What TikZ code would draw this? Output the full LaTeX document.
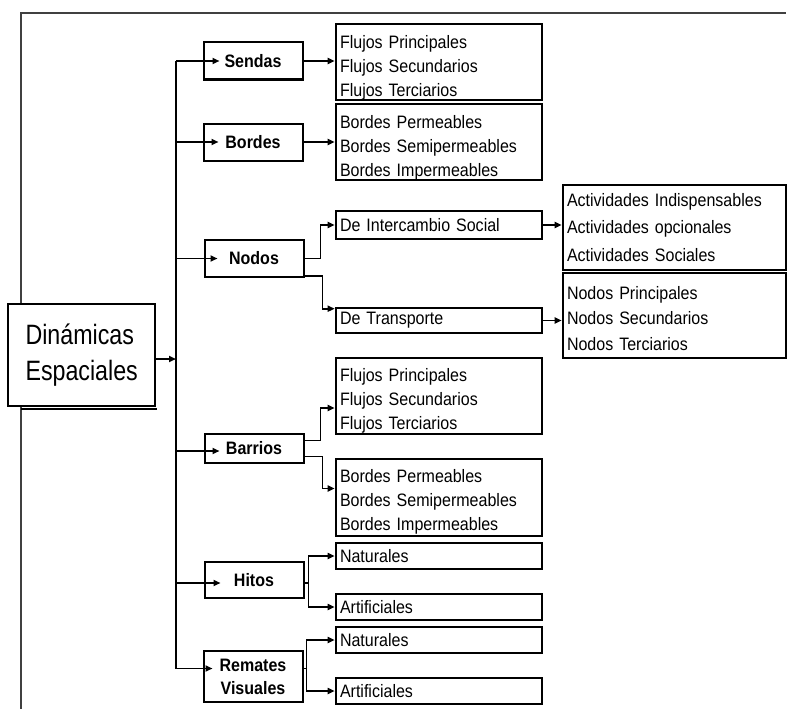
\documentclass[tikz,border=0pt]{standalone}
\usepackage{fontspec}
\setmainfont{Liberation Sans}
\newfontfamily\leaffont{Liberation Sans}[FakeStretch=0.89]
\newfontfamily\rootfont{Liberation Sans}[FakeStretch=0.83]
\usetikzlibrary{arrows.meta,calc}
\newcommand\firstrule[1]{\rule{0pt}{#1pt}}
\begin{document}
\begin{tikzpicture}[x=1pt,y=-1pt,
  arr/.style={line width=1.7pt,-{Triangle[length=7pt,width=6pt]}},
  ln/.style={line width=1.7pt},
  leafbox/.style={draw,fill=white,line width=2.6pt,inner xsep=4pt,inner ysep=0pt,
    text width=198pt,minimum width=206pt,align=left,
    font=\leaffont\fontsize{18}{24}\selectfont},
  thirdbox/.style={leafbox,text width=215pt,minimum width=223pt},
  brbox/.style={draw,fill=white,line width=2pt,minimum width=99pt,inner sep=0pt,
    align=center,font=\leaffont\bfseries\fontsize{18}{23}\selectfont},
  rootbox/.style={draw,fill=white,line width=1.3pt,minimum width=147pt,minimum height=102pt,
    inner xsep=0pt,text width=130pt,align=left,
    font=\rootfont\fontsize{28}{36}\selectfont},
  frame/.style={line width=1.4pt,black!75}
]
\useasboundingbox (0,0) rectangle (787,709);
% outer frame
\draw[frame] (21,709) -- (21,13) -- (786,13);

% root
\node[rootbox] (root) at (81.5,355) {\hspace*{9pt}Dinámicas\\\hspace*{9pt}Espaciales};
\draw[line width=2pt] ($(root.south west)+(14,2)$) -- ($(root.south east)+(1,2)$);

% branches
\node[brbox,minimum height=37pt] (sendas) at (253,61) {Sendas};
\node[brbox,minimum height=37pt] (bordes) at (253,142) {Bordes};
\node[brbox,minimum height=37pt] (nodos) at (254,258.5) {Nodos};
\node[brbox,minimum height=29pt] (barrios) at (254,448.5) {Barrios};
\node[brbox,minimum height=36pt] (hitos) at (254,580) {Hitos};
\node[brbox,minimum height=51pt] (remates) at (253,676.5) {Remates\\Visuales};

% second level
\node[leafbox,minimum height=76pt] (sl) at (439,62) {\firstrule{24}Flujos Principales\\Flujos Secundarios\\Flujos Terciarios};
\node[leafbox,minimum height=76pt] (bl) at (439,142) {\firstrule{24}Bordes Permeables\\Bordes Semipermeables\\Bordes Impermeables};
\node[leafbox,minimum height=28pt] (dis) at (439,225) {De Intercambio Social};
\node[leafbox,minimum height=25pt] (dtr) at (439,320.5) {De Transporte};
\node[leafbox,minimum height=76pt] (bfl) at (439,396) {\firstrule{22}Flujos Principales\\Flujos Secundarios\\Flujos Terciarios};
\node[leafbox,minimum height=77pt] (bbo) at (439,497.5) {\firstrule{22}Bordes Permeables\\Bordes Semipermeables\\Bordes Impermeables};
\node[leafbox,minimum height=26pt] (hn) at (439,556) {Naturales};
\node[leafbox,minimum height=26pt] (ha) at (439,607) {Artificiales};
\node[leafbox,minimum height=26pt] (rn) at (439,640) {Naturales};
\node[leafbox,minimum height=26pt] (ra) at (439,691) {Artificiales};

% third level
\node[thirdbox,minimum height=85pt,font=\leaffont\fontsize{18}{27.5}\selectfont] (act) at (674.5,227.5) {Actividades Indispensables\\Actividades opcionales\\Actividades Sociales};
\node[thirdbox,minimum height=85pt,font=\leaffont\fontsize{18}{25.5}\selectfont] (nod) at (674.5,315.5) {\firstrule{19}Nodos Principales\\Nodos Secundarios\\Nodos Terciarios};

% trunk
\coordinate (tk) at (176,0);
\coordinate (remin) at ($(remates.west)+(0,-8)$);
\draw[ln] (tk |- sendas.west) -- (tk |- remin);
\draw[arr] ($(root.east)+(0,4)$) -- (tk |- {$(root.east)+(0,4)$});

% trunk to branches (tips inside the boxes)
\draw[arr] (tk |- sendas.west) -- ($(sendas.west)+(17,0)$);
\draw[arr] (tk |- bordes.west) -- ($(bordes.west)+(16,0)$);
\draw[arr] (tk |- nodos.west) -- ($(nodos.west)+(14,0)$);
\draw[arr] (tk |- {$(barrios.west)+(0,2.5)$}) -- ($(barrios.west)+(16,2.5)$);
\draw[arr] (tk |- {$(hitos.west)+(0,3)$}) -- ($(hitos.west)+(17,3)$);
\draw[arr] (tk |- remin) -- ($(remin)+(10,0)$);

% branches to leaves
\draw[arr] (sendas.east) -- (sendas.east -| sl.west);
\draw[arr] (bordes.east) -- (bordes.east -| bl.west);
\draw[arr] (nodos.east) -- ++(16,0) |- (dis.west);
\draw[arr] ($(nodos.south east)+(0,-2)$) -- ++(18,0) |- ($(dtr.north west)+(0,2)$);
\draw[arr] ($(barrios.east)+(0,-8)$) -- ++(16,0) |- ($(bfl.west)+(0,12)$);
\draw[arr] ($(barrios.east)+(0,8)$) -- ++(18,0) |- ($(bbo.west)+(0,-9)$);
\draw[ln] ($(hitos.east)+(0,3)$) -- ++(4,0) coordinate (hv);
\draw[arr] (hv) |- (hn.west);
\draw[arr] (hv) |- (ha.west);
\draw[ln] ($(remates.east)+(0,-8)$) -- ++(3,0) coordinate (rv);
\draw[arr] (rv) |- (rn.west);
\draw[arr] (rv) |- (ra.west);

% leaves to third level
\draw[arr] (dis.east) -- (dis.east -| act.west);
\draw[arr] (dtr.east) -- (dtr.east -| nod.west);
\end{tikzpicture}
\end{document}
